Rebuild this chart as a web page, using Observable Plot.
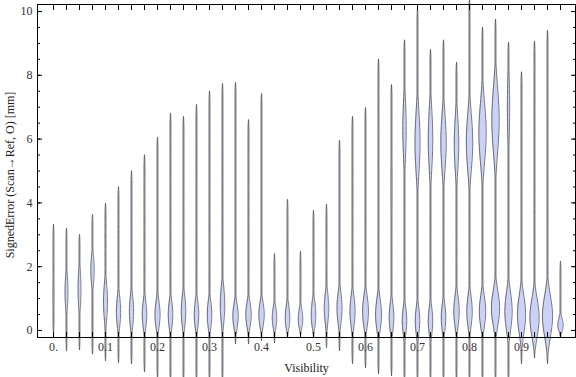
<!DOCTYPE html>
<html>
<head>
<meta charset="utf-8">
<script src="https://cdn.jsdelivr.net/npm/d3@7"></script>
<script src="https://cdn.jsdelivr.net/npm/@observablehq/plot@0.6"></script>
<style>
  html, body { margin: 0; padding: 0; background: #fff; }
</style>
</head>
<body>
<div id="chart"></div>
<script>
// Violin categories (Visibility)
const visibility = [0, 0.025, 0.05, 0.075, 0.1, 0.125, 0.15, 0.175, 0.2, 0.225,
  0.25, 0.275, 0.3, 0.325, 0.35, 0.375, 0.4, 0.425, 0.45, 0.475,
  0.5, 0.525, 0.55, 0.575, 0.6, 0.625, 0.65, 0.675, 0.7, 0.725,
  0.75, 0.775, 0.8, 0.825, 0.85, 0.875, 0.9, 0.925, 0.95, 0.975];
// Range of SignedError per violin
const minErr = [-0.08, -0.63, -0.6, -0.73, -0.94, -1.0, -1.04, -1.29, -1.5, -1.6,
  -1.6, -1.6, -1.6, -1.6, -0.41, -0.41, -0.31, -0.38, -0.22, -0.16,
  -0.22, -0.53, -0.63, -1.03, -1.16, -1.35, -1.41, -1.6, -1.6, -1.6,
  -1.6, -1.6, -1.6, -1.6, -1.6, -1.6, -1.03, -0.85, -1.03, -0.22];
const maxErr = [3.32, 3.2, 3.0, 3.63, 3.98, 4.5, 5.0, 5.5, 6.05, 6.8,
  6.7, 7.08, 7.5, 7.73, 7.77, 6.6, 7.42, 2.4, 4.1, 2.47,
  3.76, 3.95, 5.95, 6.7, 6.98, 8.5, 7.7, 9.1, 10.1, 8.8,
  9.1, 8.4, 10.4, 9.5, 9.75, 9.03, 8.1, 9.06, 9.4, 2.16];
// Lower density mode (location, relative peak density, spread)
const lowMode = [1.2, 1.2, 1.3, 1.9, 0.9, 0.6, 0.6, 0.5, 0.5, 0.5,
  0.6, 0.5, 0.5, 0.8, 0.45, 0.5, 0.5, 0.4, 0.4, 0.35,
  0.5, 0.7, 0.7, 0.6, 0.6, 0.5, 0.4, 0.3, 0.3, 0.3,
  0.4, 0.6, 0.6, 0.6, 0.7, 0.6, 0.5, 0.4, 0.45, 0.15];
const lowPeak = [0.2, 0.36, 0.36, 0.4, 0.46, 0.48, 0.48, 0.5, 0.55, 0.5,
  0.5, 0.5, 0.5, 0.5, 0.58, 0.58, 0.58, 0.5, 0.5, 0.5,
  0.5, 0.5, 0.55, 0.55, 0.62, 0.62, 0.5, 0.5, 0.5, 0.5,
  0.5, 0.58, 0.58, 0.67, 0.83, 0.75, 0.83, 0.92, 1.0, 0.58];
const lowSpread = [0.8, 0.6, 0.65, 0.5, 0.6, 0.5, 0.5, 0.45, 0.45, 0.45,
  0.5, 0.45, 0.45, 0.6, 0.4, 0.4, 0.4, 0.35, 0.4, 0.35,
  0.45, 0.5, 0.5, 0.5, 0.5, 0.5, 0.45, 0.45, 0.45, 0.45,
  0.45, 0.5, 0.5, 0.5, 0.55, 0.6, 0.6, 0.6, 0.65, 0.25];
// Upper density mode (location, relative peak density, spread)
const highMode = [0, 0, 0, 0, 0, 0, 0, 0, 0, 0,
  0, 0, 0, 0, 0, 0, 0, 0, 0, 0,
  0, 0, 0, 0, 0, 5.5, 4.5, 6.3, 5.9, 6.0,
  5.9, 5.85, 5.9, 6.2, 6.6, 7.0, 0, 0, 0, 0];
const highPeak = [0, 0, 0, 0, 0, 0, 0, 0, 0, 0,
  0, 0, 0, 0, 0, 0, 0, 0, 0, 0,
  0, 0, 0, 0, 0, 0.12, 0.2, 0.4, 0.55, 0.5,
  0.58, 0.5, 0.67, 0.75, 0.75, 0.3, 0, 0, 0, 0];
const highSpread = [1, 1, 1, 1, 1, 1, 1, 1, 1, 1,
  1, 1, 1, 1, 1, 1, 1, 1, 1, 1,
  1, 1, 1, 1, 1, 2.0, 1.8, 1.0, 1.0, 1.0,
  0.9, 0.9, 0.9, 0.95, 1.05, 1.2, 1, 1, 1, 1];

const xTickValues = [0, 0.1, 0.2, 0.3, 0.4, 0.5, 0.6, 0.7, 0.8, 0.9];
const xTickLabels = ["0.", "0.1", "0.2", "0.3", "0.4", "0.5", "0.6", "0.7", "0.8", "0.9"];
const yTickValues = [0, 2, 4, 6, 8, 10];
const yMinorValues = d3.range(0, 10.01, 0.5);

// layout
const W = 576, H = 377;
const mL = 37, mR = 1, mT = 4, mB = 40;
const xDomain = [-0.0308, 1.0038];
const yDomain = [-0.22, 10.22];
const xPerPx = (xDomain[1] - xDomain[0]) / (W - mL - mR);
const pxPerDensity = 5.6;
const baseHalf = 0.45;

const gauss = (y, m, s) => Math.exp(-0.5 * ((y - m) / s) ** 2);
const rows = [];
visibility.forEach((v, k) => {
  const lo = minErr[k], hi = maxErr[k];
  const n = 140;
  for (let i = 0; i <= n; i++) {
    const y = lo + (hi - lo) * i / n;
    const d = Math.min(y - lo, hi - y);
    const taper = Math.sqrt(Math.max(0, Math.min(1, d / 0.35)));
    const dens = lowPeak[k] * gauss(y, lowMode[k], lowSpread[k]) +
                 highPeak[k] * gauss(y, highMode[k], highSpread[k]);
    const hw = (baseHalf + Math.max(0, pxPerDensity * dens - 1.0)) * taper;
    rows.push({k, y, x1: v - hw * xPerPx, x2: v + hw * xPerPx});
  }
});

const edgeStyle = {y: "y", z: "k", stroke: "#4a4a4a", strokeWidth: 0.9, strokeOpacity: 0.85, strokeLinejoin: "round", curve: "linear"};

const chart = Plot.plot({
  width: W, height: H,
  marginLeft: mL, marginRight: mR, marginTop: mT, marginBottom: mB,
  style: {fontFamily: "'Liberation Serif', 'Times New Roman', serif", fontSize: "12px", background: "white", overflow: "visible"},
  x: {domain: xDomain, label: null},
  y: {domain: yDomain, label: null},
  marks: [
    Plot.areaX(rows, {y: "y", x1: "x1", x2: "x2", z: "k", fill: "#cbd2f7", curve: "linear"}),
    Plot.lineY(rows, {...edgeStyle, x: "x1"}),
    Plot.lineY(rows, {...edgeStyle, x: "x2"}),
    Plot.frame({stroke: "black", strokeWidth: 1}),
    Plot.axisX({anchor: "bottom", ticks: visibility, tickSize: -5, tickFormat: () => "", label: null, stroke: "black"}),
    Plot.axisX({anchor: "top", ticks: visibility, tickSize: -5, tickFormat: () => "", label: null, stroke: "black"}),
    Plot.axisX({anchor: "bottom", ticks: xTickValues, tickSize: 0, tickPadding: 5, tickFormat: d => xTickLabels[xTickValues.indexOf(d)], label: null, fill: "#333"}),
    Plot.axisY({anchor: "left", ticks: yTickValues, tickSize: -5, tickFormat: () => "", label: null, stroke: "black"}),
    Plot.axisY({anchor: "left", ticks: yMinorValues, tickSize: -3, tickFormat: () => "", label: null, stroke: "black"}),
    Plot.axisY({anchor: "right", ticks: yTickValues, tickSize: -5, tickFormat: () => "", label: null, stroke: "black"}),
    Plot.axisY({anchor: "right", ticks: yMinorValues, tickSize: -3, tickFormat: () => "", label: null, stroke: "black"}),
    Plot.axisY({anchor: "left", ticks: yTickValues, tickSize: 0, tickPadding: 5, tickFormat: d => String(d), label: null, fill: "#333"}),
    Plot.text(["Visibility"], {frameAnchor: "bottom", lineAnchor: "middle", textAnchor: "middle", dy: 31, fill: "#222", fontSize: 12}),
    Plot.text(["SignedError (Scan\u2192Ref, O) [mm]"], {frameAnchor: "left", textAnchor: "middle", lineAnchor: "middle", rotate: -90, dx: -27, dy: 4, fill: "#222", fontSize: 12})
  ]
});
document.getElementById("chart").appendChild(chart);
</script>
</body>
</html>
